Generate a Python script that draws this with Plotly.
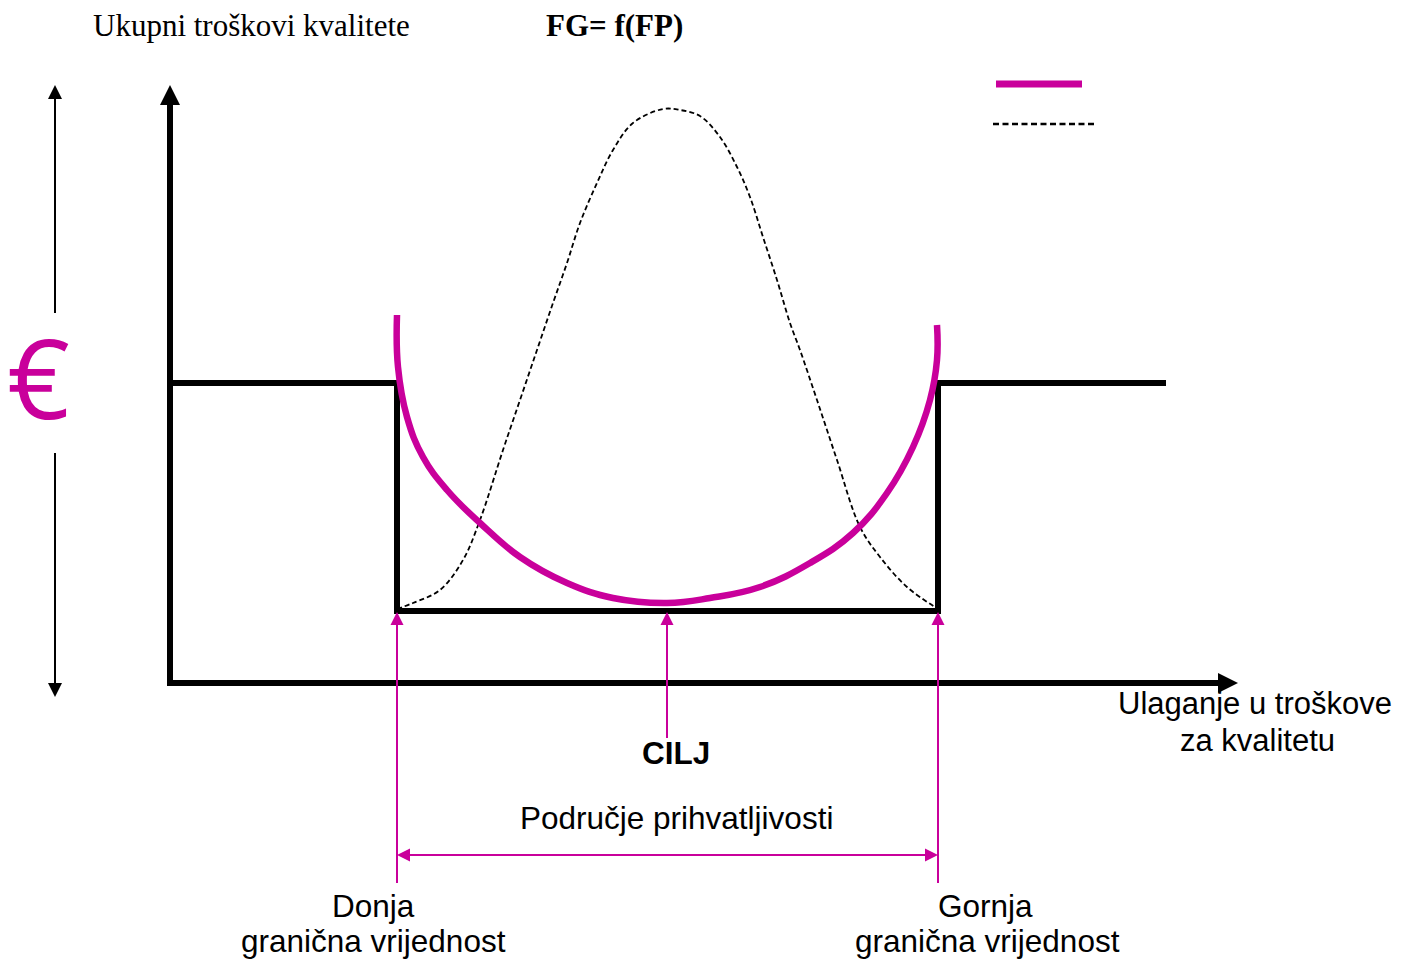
import plotly.graph_objects as go

# ---- data (diagram units: 1 unit = 1 px, origin at the axes corner, y up) ----
step_x = [0, 227, 227, 768, 768, 996]
step_y = [300, 300, 72, 72, 300, 300]

quality_x = [227, 228, 237, 253, 277, 310, 350, 397, 443, 497, 540, 590, 640, 683, 717, 743, 760, 767, 767]
quality_y = [368, 316, 266, 226, 193, 160, 126, 100, 85, 80, 85, 96, 120, 150, 190, 236, 283, 323, 358]

bell_x = [227, 243, 270, 293, 310, 333, 350, 367, 383, 397, 410, 427, 443, 463, 493, 510, 530, 550, 567,
          580, 593, 607, 620, 630, 647, 667, 690, 710, 737, 768]
bell_y = [74, 80, 93, 123, 163, 233, 283, 333, 380, 420, 460, 500, 533, 560, 574, 573, 567, 546, 516,
          486, 446, 403, 360, 333, 283, 223, 156, 126, 96, 74]

lower_limit = 227
target = 497
upper_limit = 768
limit_level = 72
y_axis_top = 598
x_axis_end = 1068

title_left = "Ukupni troškovi kvalitete"
title_right = "FG= f(FP)"
x_label = ["Ulaganje u troškove", "za kvalitetu"]
target_label = "CILJ"
range_label = "Područje prihvatljivosti"
lower_label = ["Donja", "granična vrijednost"]
upper_label = ["Gornja", "granična vrijednost"]
currency = "€"

MAG = "#C9009B"
BLK = "#000000"

fig = go.Figure()

def line(x, y, color, width, dash=None, shape="linear", smoothing=1.0):
    fig.add_trace(go.Scatter(x=x, y=y, mode="lines",
                             line=dict(color=color, width=width, dash=dash, shape=shape,
                                       smoothing=smoothing if shape == "spline" else None),
                             hoverinfo="skip"))

def head(x, y, symbol, size, color):
    fig.add_trace(go.Scatter(x=[x], y=[y], mode="markers",
                             marker=dict(symbol=symbol, size=size, color=color,
                                         line=dict(width=0)),
                             hoverinfo="skip"))

# axes
line([0, 0], [-3, y_axis_top - 18], BLK, 6)
head(0, y_axis_top, "arrow-up", 20, BLK)
line([-3, x_axis_end - 18], [0, 0], BLK, 6)
head(x_axis_end, 0, "arrow-right", 20, BLK)

# left thin double arrow with euro sign
line([-115, -115], [370, y_axis_top - 12], BLK, 2)
head(-115, y_axis_top, "arrow-up", 14, BLK)
line([-115, -115], [230, -2], BLK, 2)
head(-115, -14, "arrow-down", 14, BLK)

# step function
line(step_x, step_y, BLK, 6)

# dashed bell curve
line(bell_x, bell_y, BLK, 1.8, dash="5px,3px", shape="spline")

# magenta quality cost curve
line(quality_x, quality_y, MAG, 6.5, shape="spline", smoothing=1.2)

# magenta limit/target arrows
for xv, bottom in [(lower_limit, -200), (target, -55), (upper_limit, -200)]:
    line([xv, xv], [bottom, limit_level - 10], MAG, 2)
    head(xv, limit_level - 1, "arrow-up", 13, MAG)

# acceptance range double arrow
line([lower_limit + 8, upper_limit - 8], [-172, -172], MAG, 2)
head(lower_limit, -172, "arrow-left", 13, MAG)
head(upper_limit, -172, "arrow-right", 13, MAG)

# legend-like samples
line([826, 912], [599, 599], MAG, 7)
line([823, 926], [559, 559], BLK, 2.5, dash="6px,3.5px")

sans = "Liberation Sans, Arial, sans-serif"
serif = "Liberation Serif, Times New Roman, serif"

def text(x, y, t, size, family, color=BLK, xanchor="center", bold=False):
    fig.add_annotation(x=x, y=y, xref="x", yref="y", text=f"<b>{t}</b>" if bold else t,
                       showarrow=False, xanchor=xanchor, yanchor="middle",
                       font=dict(size=size, family=family, color=color))

FS = 31.5
text(-79, 658, title_left, 31, serif, xanchor="left")
text(374, 658, title_right, 31, serif, xanchor="left", bold=True)
text(-132, 307, currency, 110, "Open Sans, sans-serif", color=MAG)
text(1085, -20, x_label[0], 31, sans)
text(1087, -57, x_label[1], 31, sans)
text(506, -70, target_label, FS, sans, bold=True)
text(506, -135, range_label, FS, sans)
text(203, -223, lower_label[0], FS, sans)
text(203, -258, lower_label[1], FS, sans)
text(815, -223, upper_label[0], FS, sans)
text(817, -258, upper_label[1], FS, sans)

fig.update_layout(
    width=1387, height=951,
    margin=dict(l=0, r=0, t=0, b=0),
    paper_bgcolor="white", plot_bgcolor="white",
    showlegend=False, hovermode=False,
    xaxis=dict(range=[-162, 1225], visible=False, fixedrange=True),
    yaxis=dict(range=[-276, 675], visible=False, fixedrange=True),
)

fig.write_html("out.html")
